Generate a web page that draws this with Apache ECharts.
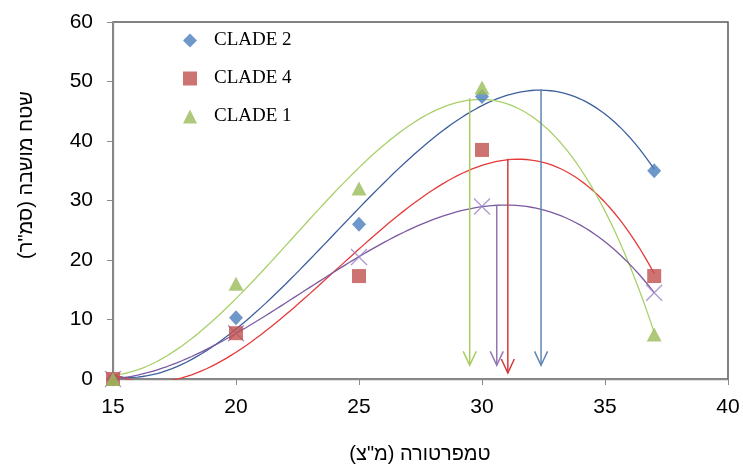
<!DOCTYPE html>
<html>
<head>
<meta charset="utf-8">
<script src="https://cdn.jsdelivr.net/npm/echarts@6/dist/echarts.min.js"></script>
<style>
  html, body { margin: 0; padding: 0; background: #fff; }
  #chart { width: 743px; height: 467px; }
</style>
</head>
<body>
<div id="chart"></div>
<script>
// Colony area (cm²) measured at each growth temperature (°C)
const temps  = [15, 20, 25, 30, 37];
const clade2 = [0, 10.3, 26, 47.5, 35];
const clade4 = [0, 7.7, 17.3, 38.5, 17.3];
const clade1 = [0, 16, 32, 49, 7.5];
const cladeX = [0, 7.7, 20.5, 29, 14.5];

// Optimum-temperature arrows: x position, top and bottom of the shaft
const arrowX      = [29.5, 30.6, 31.05, 32.4];
const arrowTop    = [47.2, 29.2, 37.0, 48.7];
const arrowBottom = [2.3, 2.3, 1.0, 2.3];
const arrowColors = ['#a9cc5e', '#9377b5', '#d43a3a', '#5f86b3'];

const xTickMin = 15, xTickMax = 40, xTickStep = 5;
const yTickMin = 0,  yTickMax = 60, yTickStep = 10;

// Least-squares polynomial trendline through a set of points
function polyFit(xs, ys, deg) {
  const n = deg + 1, x0 = 25;
  const A = Array.from({ length: n }, () => new Array(n + 1).fill(0));
  xs.forEach((x, i) => {
    const t = x - x0;
    for (let r = 0; r < n; r++) {
      for (let c = 0; c < n; c++) A[r][c] += Math.pow(t, r + c);
      A[r][n] += Math.pow(t, r) * ys[i];
    }
  });
  for (let i = 0; i < n; i++) {
    let p = i;
    for (let k = i + 1; k < n; k++) if (Math.abs(A[k][i]) > Math.abs(A[p][i])) p = k;
    [A[i], A[p]] = [A[p], A[i]];
    for (let k = i + 1; k < n; k++) {
      const f = A[k][i] / A[i][i];
      for (let c = i; c <= n; c++) A[k][c] -= f * A[i][c];
    }
  }
  const coef = new Array(n).fill(0);
  for (let i = n - 1; i >= 0; i--) {
    let s = A[i][n];
    for (let c = i + 1; c < n; c++) s -= A[i][c] * coef[c];
    coef[i] = s / A[i][i];
  }
  return x => coef.reduce((s, a, k) => s + a * Math.pow(x - x0, k), 0);
}

function trendData(ys) {
  const f = polyFit(temps, ys, 3);
  const out = [];
  const x1 = temps[0], x2 = temps[temps.length - 1];
  for (let x = x1; x <= x2 + 1e-9; x += 0.2) out.push([x, f(x)]);
  return out;
}

function pts(ys) { return temps.map((x, i) => [x, ys[i]]); }

function trendSeries(ys, color) {
  return {
    type: 'line', data: trendData(ys), showSymbol: false, symbol: 'none',
    lineStyle: { color: color, width: 1.3 }, silent: true, z: 2, clip: true
  };
}

const axisFont = { fontFamily: 'Liberation Sans, Arial, sans-serif', fontSize: 21, color: '#000' };
const hebFont = 'Liberation Sans, DejaVu Sans, Arial, sans-serif';

const chart = echarts.init(document.getElementById('chart'), null, { renderer: 'canvas' });
chart.setOption({
  animation: false,
  backgroundColor: '#fff',
  grid: { left: 113, right: 15, top: 22, bottom: 88, show: true, borderColor: '#5a5a5a', borderWidth: 1.5, backgroundColor: 'transparent' },
  xAxis: {
    type: 'value', min: xTickMin, max: xTickMax, interval: xTickStep,
    axisLine: { lineStyle: { color: '#8a8a8a', width: 1.3 } },
    axisTick: { show: true, inside: false, length: 6, lineStyle: { color: '#8a8a8a' } },
    axisLabel: Object.assign({ margin: 18 }, axisFont),
    splitLine: { show: false }
  },
  yAxis: {
    type: 'value', min: yTickMin, max: yTickMax, interval: yTickStep,
    axisLine: { show: true, lineStyle: { color: '#8a8a8a', width: 1.3 } },
    axisTick: { show: true, inside: false, length: 6, lineStyle: { color: '#8a8a8a' } },
    axisLabel: Object.assign({ margin: 20 }, axisFont),
    splitLine: { show: false }
  },
  legend: {
    data: ['CLADE 2', 'CLADE 4', 'CLADE 1'],
    orient: 'vertical', left: 183, top: 31, padding: 0,
    itemWidth: 14, itemHeight: 14, itemGap: 19,
    textStyle: { fontFamily: 'Liberation Serif, Times New Roman, serif', fontSize: 19, color: '#000', padding: [0, 0, 0, 12] }
  },
  graphic: [
    { type: 'text', style: { text: 'טמפרטורה (מ"צ)', x: 420, y: 454, textAlign: 'center', textVerticalAlign: 'middle', font: '20px ' + hebFont, fill: '#000' } },
    { type: 'text', x: 26, y: 175, rotation: Math.PI / 2, style: { text: 'שטח מושבה (סמ"ר)', x: 0, y: 0, textAlign: 'center', textVerticalAlign: 'middle', font: '20px ' + hebFont, fill: '#000' } }
  ],
  series: [
    trendSeries(clade2, '#3d5f9e'),
    trendSeries(clade4, '#e53a3a'),
    trendSeries(clade1, '#a8d06a'),
    trendSeries(cladeX, '#7a5aa0'),
    {
      type: 'custom', silent: true, z: 3,
      data: arrowX.map((x, i) => [x, arrowTop[i], arrowBottom[i]]),
      encode: { x: 0, y: [1, 2] },
      renderItem: function (params, api) {
        const x = api.value(0);
        const a = api.coord([x, api.value(1)]);
        const b = api.coord([x, api.value(2)]);
        const col = arrowColors[params.dataIndex];
        return {
          type: 'group',
          children: [
            { type: 'line', shape: { x1: a[0], y1: a[1], x2: b[0], y2: b[1] }, style: { stroke: col, lineWidth: 1.5 } },
            { type: 'polyline', shape: { points: [[b[0] - 6.5, b[1] - 14], [b[0], b[1]], [b[0] + 6.5, b[1] - 14]] }, style: { stroke: col, fill: null, lineWidth: 1.5 } }
          ]
        };
      }
    },
    {
      name: 'X', type: 'scatter', data: pts(cladeX), symbol: 'path://M0,0L10,10M10,0L0,10', symbolSize: 16,
      itemStyle: { color: 'transparent', borderColor: '#9b82c4', borderWidth: 1.4 }, z: 4
    },
    { name: 'CLADE 2', type: 'scatter', data: pts(clade2), symbol: 'diamond', symbolSize: [14, 15], itemStyle: { color: '#4a7ebb' }, z: 5 },
    { name: 'CLADE 4', type: 'scatter', data: pts(clade4), symbol: 'rect', symbolSize: 14, itemStyle: { color: '#c0504d' }, z: 5 },
    { name: 'CLADE 1', type: 'scatter', data: pts(clade1), symbol: 'triangle', symbolSize: [15, 14], itemStyle: { color: '#9bbb59' }, z: 5 }
  ]
});
</script>
</body>
</html>
